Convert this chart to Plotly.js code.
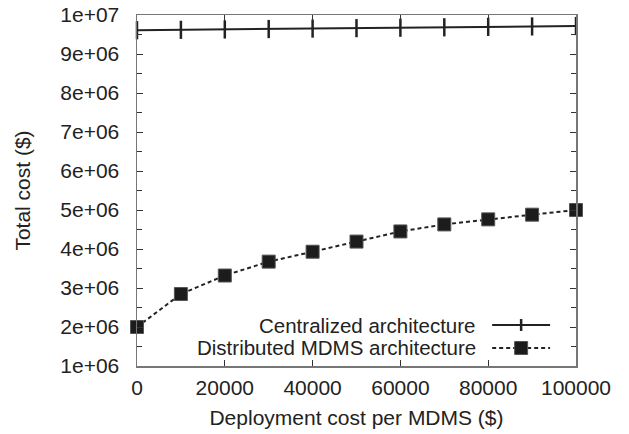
<!DOCTYPE html>
<html>
<head>
<meta charset="utf-8">
<script src="https://cdn.plot.ly/plotly-3.0.1.min.js"></script>
<style>html,body{margin:0;padding:0;background:#fff;}#chart{width:629px;height:434px;}</style>
</head>
<body>
<div id="chart"></div>
<script>
// Data
const deploymentCost = [0, 10000, 20000, 30000, 40000, 50000, 60000, 70000, 80000, 90000, 100000];
const centralized = [9610000, 9620000, 9630000, 9640000, 9652000, 9663000, 9674000, 9685000, 9696000, 9707000, 9717000];
const distributed = [2000000, 2846000, 3320000, 3676000, 3930000, 4190000, 4450000, 4630000, 4760000, 4880000, 5000000];
const xTickVals = [0, 20000, 40000, 60000, 80000, 100000];
const xTickText = ["0", "20000", "40000", "60000", "80000", "100000"];
const yTickVals = [1e6, 2e6, 3e6, 4e6, 5e6, 6e6, 7e6, 8e6, 9e6, 1e7];
const yTickText = ["1e+06", "2e+06", "3e+06", "4e+06", "5e+06", "6e+06", "7e+06", "8e+06", "9e+06", "1e+07"];
const seriesNames = ["Centralized architecture", "Distributed MDMS architecture"];

const ink = '#222';
const font = {family: 'Liberation Sans, Arial, sans-serif', size: 21, color: ink};
const legendFont = {family: 'Liberation Sans, Arial, sans-serif', size: 20.5, color: ink};

const traces = [
  {
    x: deploymentCost, y: centralized, type: 'scatter', mode: 'lines+markers',
    name: seriesNames[0], showlegend: false,
    line: {color: ink, width: 2},
    marker: {symbol: 'line-ns', size: 13, color: ink, line: {color: ink, width: 2.5}},
    cliponaxis: false
  },
  {
    x: deploymentCost, y: distributed, type: 'scatter', mode: 'lines+markers',
    name: seriesNames[1], showlegend: false,
    line: {color: ink, width: 2, dash: '4px,3px'},
    marker: {symbol: 'square', size: 13, color: '#1c1c1c', line: {color: '#555', width: 1}},
    cliponaxis: false
  }
];

// legend geometry in paper coords (gnuplot-style: text then sample to the right)
const lg = {textX: 0.777, y1: 0.1168, y2: 0.0513, lx0: 0.809, lx1: 0.941, mx: 0.875};

const layout = {
  width: 629, height: 434,
  margin: {l: 137, r: 53, t: 15, b: 68},
  paper_bgcolor: '#fff', plot_bgcolor: '#fff',
  font: font,
  showlegend: false,
  xaxis: {
    range: [0, 100000], tickvals: xTickVals, ticktext: xTickText,
    ticks: 'inside', ticklen: 6, tickwidth: 1, tickcolor: '#333',
    showline: true, linecolor: '#777', linewidth: 1.5, mirror: 'ticks',
    showgrid: false, zeroline: false, ticklabelstandoff: 2,
    tickfont: font,
    title: {text: 'Deployment cost per MDMS ($)', font: font, standoff: 12}
  },
  yaxis: {
    range: [1e6, 1e7], tickvals: yTickVals, ticktext: yTickText,
    ticks: 'inside', ticklen: 6, tickwidth: 1, tickcolor: '#333',
    minor: {dtick: 500000, ticks: 'inside', ticklen: 5, tickcolor: '#333', showgrid: false},
    showline: true, linecolor: '#777', linewidth: 1.5, mirror: 'ticks',
    showgrid: false, zeroline: false, ticklabelstandoff: 12,
    tickfont: font,
    title: {text: 'Total cost ($)', font: font, standoff: 24}
  },
  annotations: [
    {xref: 'paper', yref: 'paper', x: lg.textX, y: lg.y1, xanchor: 'right', yanchor: 'middle',
     text: seriesNames[0], showarrow: false, font: legendFont},
    {xref: 'paper', yref: 'paper', x: lg.textX, y: lg.y2, xanchor: 'right', yanchor: 'middle',
     text: seriesNames[1], showarrow: false, font: legendFont}
  ],
  shapes: [
    {type: 'line', xref: 'paper', yref: 'paper', x0: lg.lx0, x1: lg.lx1, y0: lg.y1, y1: lg.y1,
     line: {color: ink, width: 2}},
    {type: 'line', xref: 'paper', yref: 'paper', x0: lg.mx, x1: lg.mx, y0: lg.y1 - 0.017, y1: lg.y1 + 0.017,
     line: {color: ink, width: 2.5}},
    {type: 'line', xref: 'paper', yref: 'paper', x0: lg.lx0, x1: lg.lx1, y0: lg.y2, y1: lg.y2,
     line: {color: ink, width: 2, dash: '4px,3px'}},
    {type: 'rect', xref: 'paper', yref: 'paper', x0: lg.mx - 0.0148, x1: lg.mx + 0.0148, y0: lg.y2 - 0.0185, y1: lg.y2 + 0.0185,
     fillcolor: '#1c1c1c', line: {color: '#555', width: 1}}
  ]
};

Plotly.newPlot('chart', traces, layout, {displayModeBar: false, staticPlot: true});
</script>
</body>
</html>
